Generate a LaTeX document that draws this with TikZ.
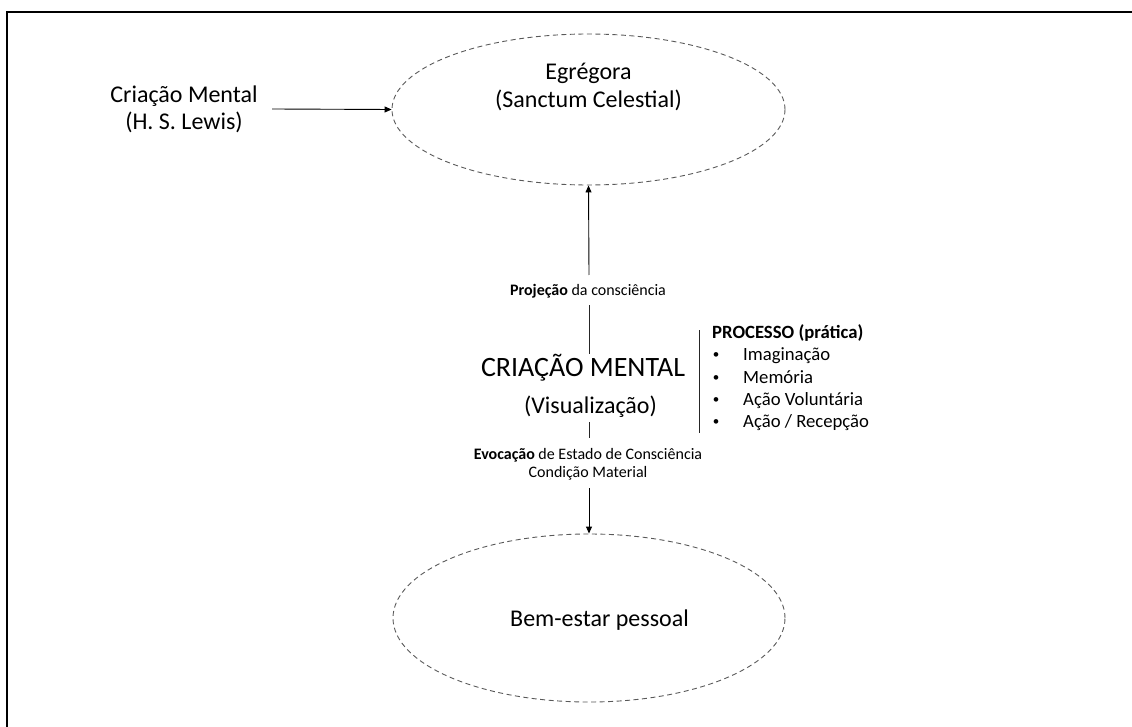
\documentclass[tikz,border=0pt]{standalone}
\usepackage{fontspec}
\setmainfont{Carlito}
\usetikzlibrary{arrows.meta,shapes.geometric}
\begin{document}
\begin{tikzpicture}[x=1pt,y=-1pt,
  big/.style={font=\fontsize{24}{28}\selectfont, inner sep=0pt, anchor=base},
  huge/.style={font=\fontsize{28}{33}\selectfont, inner sep=0pt, anchor=base},
  small/.style={font=\fontsize{16}{19}\selectfont, inner sep=0pt, anchor=base},
  mid/.style={font=\fontsize{18.7}{22}\selectfont, inner sep=0pt, anchor=base west},
  dot/.style={font=\fontsize{13}{15}\selectfont, inner sep=0pt, anchor=base},
  bubble/.style={ellipse, draw=black!65, dash pattern=on 5pt off 3.5pt, line width=0.9pt, inner sep=0pt},
  conn/.style={draw=black, line width=0.9pt, -{Triangle[length=7pt,width=6pt]}},
  plain/.style={draw=black!85, line width=0.9pt},
  frame/.style={draw=black, line width=2.3pt}
]
\useasboundingbox (0,0) rectangle (1132,727);
% frame
\coordinate (ftl) at (7,12);
\coordinate (ftr) at (1134,12);
\coordinate (fbl) at (7,729);
\draw[frame] (fbl) -- (ftl) -- (ftr);

% ellipses
\node[bubble, minimum width=393pt, minimum height=151pt] (egr) at (588.5,109.5) {};
\node[bubble, minimum width=392pt, minimum height=168pt] (bem) at (589,618) {};

% texts in ellipses
\node[big] (egr1) at (588.5,80) {Egrégora};
\node[big] (egr2) at (588.5,108) {(Sanctum Celestial)};
\node[big] (bemt) at (599.5,626.5) {Bem-estar pessoal};

% left text
\node[big] (cm1) at (184,102.5) {Criação Mental};
\node[big] (cm2) at (184,130) {(H. S. Lewis)};
\coordinate (cmr) at (272,109);
\draw[conn] (cmr) -- (egr.west);

% central
\node[huge] (crm) at (583,376) {CRIAÇÃO MENTAL};
\node[big] (vis) at (590.5,413) {(Visualização)};
\node[small] (proj) at (588,295) {\textbf{Projeção} da consciência};
\node[small] (evo1) at (588,459) {\textbf{Evocação} de Estado de Consciência};
\node[small] (evo2) at (588,477) {Condição Material};

\coordinate (a1) at (589,275);
\draw[conn] (a1) -- (egr.south);
\coordinate (l1a) at (589,305);
\coordinate (l1b) at (589,354);
\draw[plain] (l1a) -- (l1b);
\coordinate (l2a) at (589,422);
\coordinate (l2b) at (589,438);
\draw[plain] (l2a) -- (l2b);
\coordinate (a2) at (589,488);
\draw[conn] (a2) -- (bem.north);

% process block
\coordinate (pva) at (699,330);
\coordinate (pvb) at (699,433);
\draw[plain] (pva) -- (pvb);
\node[mid] (ph) at (712,338.5) {\textbf{PROCESSO (prática)}};
\foreach \y/\t/\n in {360.8/{Imaginação}/p1, 383/{Memória}/p2, 405.3/{Ação Voluntária}/p3, 427.5/{Ação / Recepção}/p4}{
  \node[dot] (b\n) at (716,\y-2) {\textbullet};
  \node[mid] (\n) at (743,\y) {\t};
}
\end{tikzpicture}
\end{document}
